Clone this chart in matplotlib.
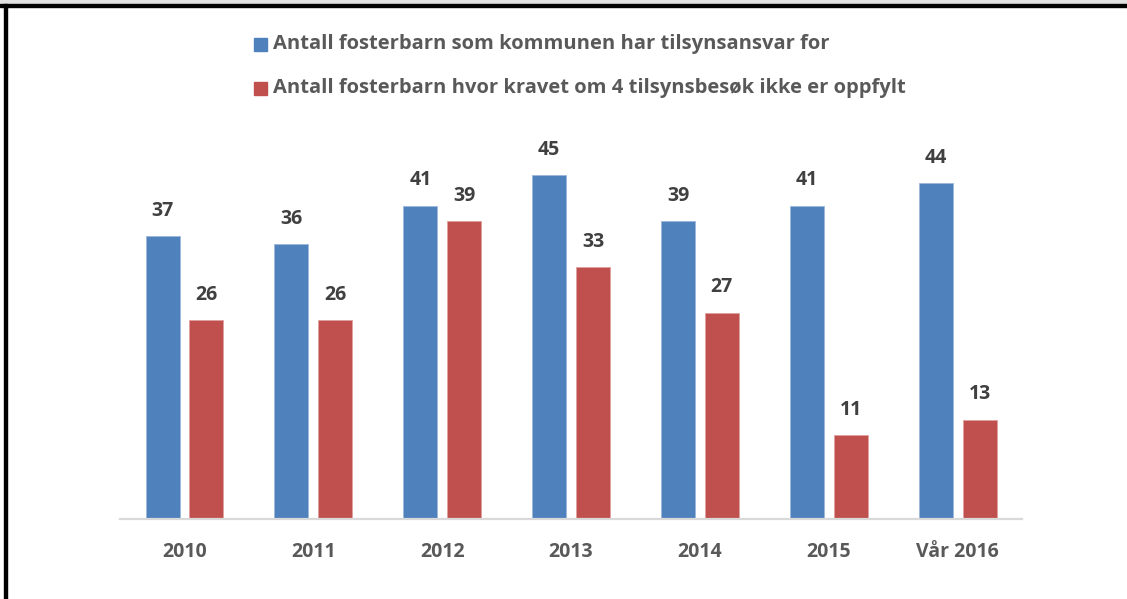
import matplotlib
matplotlib.use('Agg')
import matplotlib.pyplot as plt
from matplotlib.patches import Rectangle
import numpy as np

# data
categories = ['2010', '2011', '2012', '2013', '2014', '2015', 'Vår 2016']
total_children = [37, 36, 41, 45, 39, 41, 44]
not_fulfilled = [26, 26, 39, 33, 27, 11, 13]
series_names = ['Antall fosterbarn som kommunen har tilsynsansvar for',
                'Antall fosterbarn hvor kravet om 4 tilsynsbesøk ikke er oppfylt']

blue = '#4F81BD'
red = '#C0504D'
label_color = '#404040'
tick_color = '#595959'

plt.rcParams['font.family'] = ['Open Sans', 'DejaVu Sans']

fig = plt.figure(figsize=(11.27, 5.99), dpi=100)
ax = fig.add_axes([0.1065, 0.1336, 0.8004, 0.6377])

x = np.arange(len(categories))
w = 0.264
off = 0.17
b1 = ax.bar(x - off, total_children, w, color=blue, edgecolor='#9DB7DC', linewidth=0.6)
b2 = ax.bar(x + off, not_fulfilled, w, color=red, edgecolor='#E0A09E', linewidth=0.6)

for bars in (b1, b2):
    ax.bar_label(bars, padding=11, fontsize=14, fontweight='bold', color=label_color)

ax.set_xlim(-0.5, len(categories) - 0.5)
ax.set_ylim(0, 50)
ax.set_xticks(x)
ax.set_xticklabels(categories, fontsize=14, fontweight='bold', color=tick_color)
ax.tick_params(axis='x', length=0, pad=16.5)
ax.set_yticks([])
for s in ['top', 'right', 'left']:
    ax.spines[s].set_visible(False)
ax.spines['bottom'].set_color('#D9D9D9')
ax.spines['bottom'].set_linewidth(1.6)

# legend drawn by hand at the top
W, H = 1127, 599
for i, (name, col) in enumerate(zip(series_names, [blue, red])):
    yc = 44 + i * 44
    fig.patches.append(Rectangle((254 / W, 1 - (yc + 7) / H), 13 / W, 13 / H,
                                 transform=fig.transFigure, color=col))
    fig.text(273 / W, 1 - yc / H, name, fontsize=14.5, fontweight='bold',
             color=tick_color, va='center', ha='left')

# frame remnants: grey strip on top, black lines top and left
fig.patches.append(Rectangle((0, 1 - 4 / H), 1, 4 / H, transform=fig.transFigure,
                             color='#E0E0E0'))
fig.patches.append(Rectangle((0, 1 - 7 / H), 1, 3 / H, transform=fig.transFigure,
                             color='black'))
fig.patches.append(Rectangle((4 / W, 0), 3 / W, 1 - 4 / H, transform=fig.transFigure,
                             color='black'))

fig.savefig('out.png', dpi=100)
